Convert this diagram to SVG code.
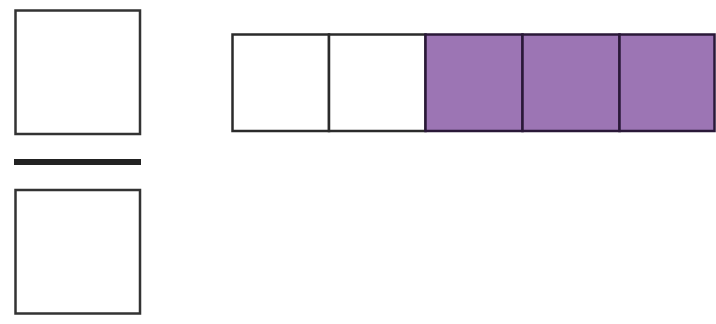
<svg xmlns="http://www.w3.org/2000/svg" width="716" height="324" viewBox="0 0 716 324">
<style>
.box{fill:#ffffff;stroke:#333333;stroke-width:2.5}
.cell{fill:#ffffff;stroke:#2b2b2b;stroke-width:2.5}
.fill{fill:#9c75b4;stroke:#2a1838;stroke-width:2.5}
</style>
<rect width="716" height="324" fill="#ffffff"/>
<g id="fraction">
<g id="numerator"><rect class="box" x="15.5" y="10.5" width="124.5" height="123.5"/></g>
<g id="bar"><line x1="14" y1="162" x2="141" y2="162" stroke="#222222" stroke-width="6"/></g>
<g id="denominator"><rect class="box" x="15.5" y="190" width="124.5" height="123.5"/></g>
</g>
<g id="strip">
<rect id="cell1" class="cell" x="232.5" y="34.5" width="96.5" height="96.5"/>
<rect id="cell2" class="cell" x="329" y="34.5" width="96.5" height="96.5"/>
<rect id="cell3" class="fill" x="425.5" y="34.5" width="97" height="96.5"/>
<rect id="cell4" class="fill" x="522.5" y="34.5" width="97" height="96.5"/>
<rect id="cell5" class="fill" x="619.5" y="34.5" width="95" height="96.5"/>
</g>
<g id="connectors"/>
</svg>
